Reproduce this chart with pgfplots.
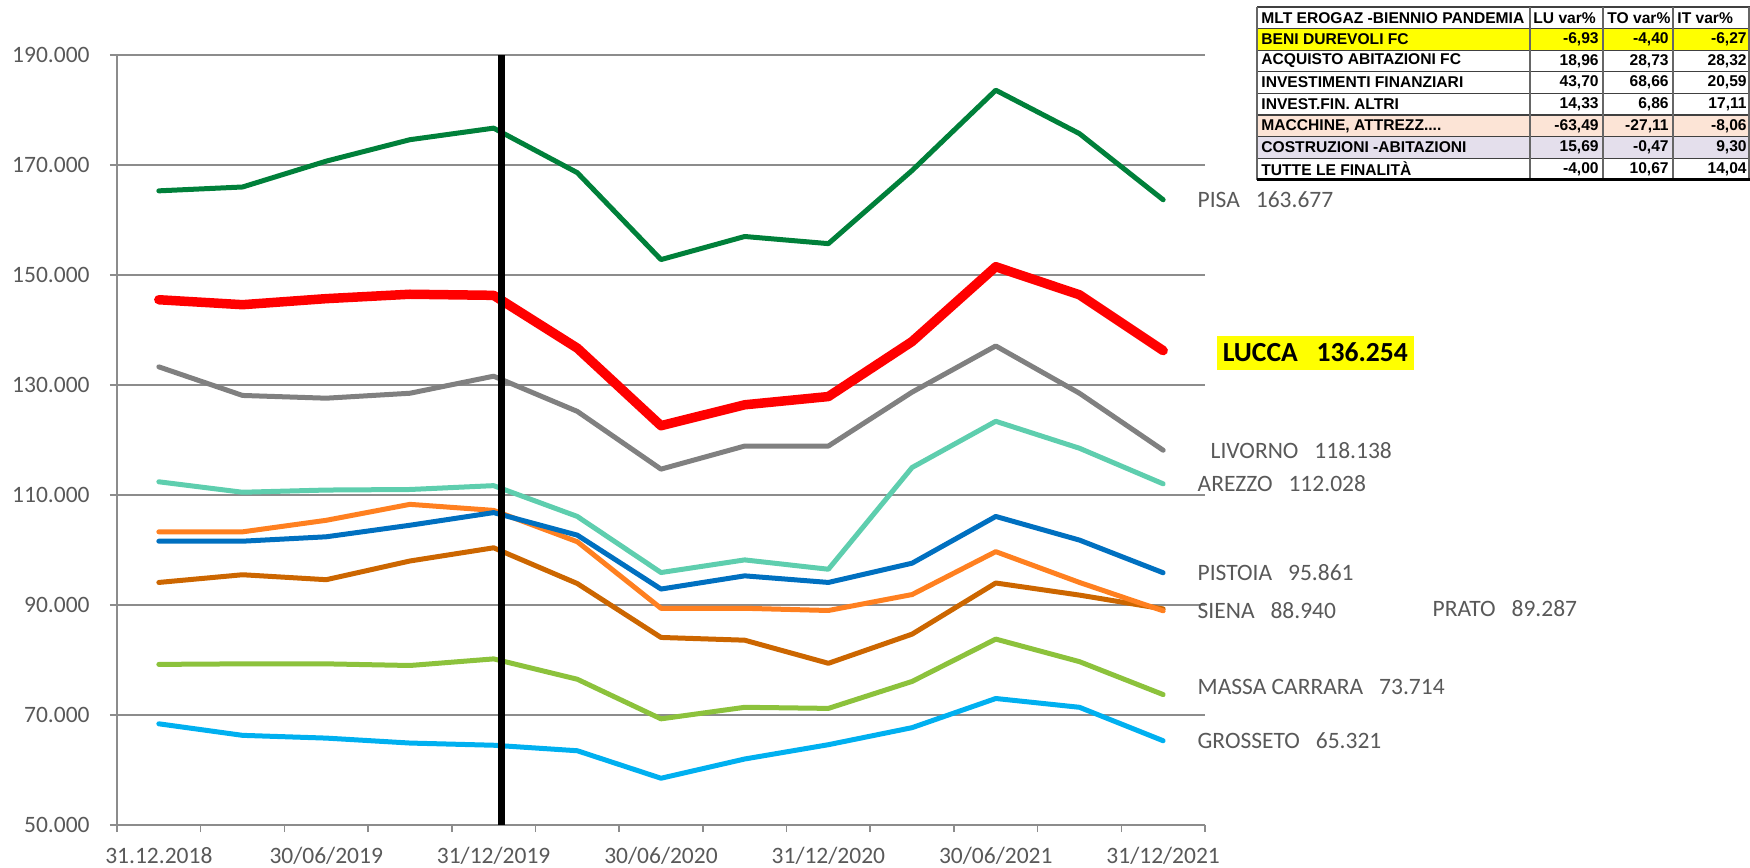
\documentclass[border=0pt]{standalone}
\usepackage{pgfplots}
\pgfplotsset{compat=1.18}
\usepackage{fontspec}
\setmainfont{Carlito}
\newfontfamily\tabfont{Liberation Sans}
\definecolor{cPisa}{RGB}{0,128,58}
\definecolor{cLucca}{RGB}{255,0,0}
\definecolor{cLivorno}{RGB}{128,128,128}
\definecolor{cArezzo}{RGB}{94,206,174}
\definecolor{cPistoia}{RGB}{0,112,192}
\definecolor{cSiena}{RGB}{255,128,32}
\definecolor{cPrato}{RGB}{204,102,0}
\definecolor{cMassa}{RGB}{140,194,60}
\definecolor{cGrosseto}{RGB}{0,176,240}
\definecolor{gridc}{RGB}{140,140,140}
\definecolor{labc}{RGB}{89,89,89}
\definecolor{rowY}{RGB}{255,255,0}
\definecolor{rowP}{RGB}{252,228,214}
\definecolor{rowL}{RGB}{228,223,236}
\newcommand{\lbl}{\fontsize{11.75}{14}\selectfont}
\newcommand{\tf}{\tabfont\bfseries\fontsize{7.8}{9}\selectfont}
\newcommand{\trow}[5]{%
  \node[anchor=west, inner sep=0pt, font=\tf] at (572,#1) {#2};
  \node[anchor=east, inner sep=0pt, font=\tf] at (741,#1) {#3};
  \node[anchor=east, inner sep=0pt, font=\tf] at (776,#1) {#4};
  \node[anchor=east, inner sep=0pt, font=\tf] at (815,#1) {#5};
}
\begin{document}
\begin{tikzpicture}[x=1pt,y=1pt]
\useasboundingbox (-58.5,-21) rectangle (816.5,412.5);
\begin{axis}[at={(0,0)}, anchor=south west, scale only axis,
  width=544pt, height=385pt,
  xmin=-0.5, xmax=12.5, ymin=50, ymax=190,
  clip=false,
  axis lines*=left,
  axis line style={draw=gridc, line width=0.75pt},
  ytick={50,70,...,190},
  yticklabels={50.000,70.000,90.000,110.000,130.000,150.000,170.000,190.000},
  xtick={-0.5,0.5,...,12.5}, xticklabels={},
  extra x ticks={0,2,...,12},
  extra x tick labels={31.12.2018,30/06/2019,31/12/2019,30/06/2020,31/12/2020,30/06/2021,31/12/2021},
  extra x tick style={major tick length=0pt, grid=none},
  tick align=outside, major tick length=3.5pt,
  tick style={draw=gridc, line width=0.75pt},
  ymajorgrids, grid style={draw=gridc, line width=0.75pt},
  ticklabel style={font=\lbl, text=labc},
  yticklabel style={inner sep=0pt, xshift=-10pt},
  xticklabel style={anchor=base, inner sep=0pt, yshift=-19pt},
  every axis plot/.append style={no marks, line width=2.5pt, line join=round, line cap=round},
]
\addplot[cGrosseto] coordinates {(0,68.4) (1,66.3) (2,65.8) (3,64.9) (4,64.5) (5,63.5) (6,58.5) (7,62.0) (8,64.6) (9,67.7) (10,73.0) (11,71.4) (12,65.321)}
  node[pos=1, anchor=west, xshift=16pt, inner sep=0pt, text=labc, font=\lbl] {GROSSETO~~~65.321};
\addplot[cMassa] coordinates {(0,79.2) (1,79.3) (2,79.3) (3,79.0) (4,80.2) (5,76.5) (6,69.3) (7,71.4) (8,71.2) (9,76.1) (10,83.8) (11,79.7) (12,73.714)}
  node[pos=1, anchor=west, xshift=16pt, yshift=3.75pt, inner sep=0pt, text=labc, font=\lbl] {MASSA CARRARA~~~73.714};
\addplot[cPrato] coordinates {(0,94.1) (1,95.5) (2,94.6) (3,98.0) (4,100.4) (5,93.9) (6,84.1) (7,83.6) (8,79.4) (9,84.7) (10,94.0) (11,91.8) (12,89.287)}
  node[pos=1, anchor=west, xshift=133.5pt, inner sep=0pt, text=labc, font=\lbl] {PRATO~~~89.287};
\addplot[cSiena] coordinates {(0,103.3) (1,103.3) (2,105.4) (3,108.3) (4,107.2) (5,101.5) (6,89.4) (7,89.4) (8,89.0) (9,91.9) (10,99.7) (11,94.1) (12,88.940)}
  node[pos=1, anchor=west, xshift=16pt, inner sep=0pt, text=labc, font=\lbl] {SIENA~~~88.940};
\addplot[cPistoia] coordinates {(0,101.6) (1,101.6) (2,102.4) (3,104.5) (4,106.8) (5,102.7) (6,92.9) (7,95.3) (8,94.1) (9,97.6) (10,106.1) (11,101.8) (12,95.861)}
  node[pos=1, anchor=west, xshift=16pt, inner sep=0pt, text=labc, font=\lbl] {PISTOIA~~~95.861};
\addplot[cArezzo] coordinates {(0,112.4) (1,110.5) (2,110.9) (3,111.0) (4,111.7) (5,106.1) (6,95.9) (7,98.2) (8,96.5) (9,115.0) (10,123.4) (11,118.5) (12,112.028)}
  node[pos=1, anchor=west, xshift=16pt, inner sep=0pt, text=labc, font=\lbl] {AREZZO~~~112.028};
\addplot[cLivorno] coordinates {(0,133.3) (1,128.1) (2,127.6) (3,128.5) (4,131.6) (5,125.2) (6,114.7) (7,118.9) (8,118.9) (9,128.7) (10,137.1) (11,128.5) (12,118.138)}
  node[pos=1, anchor=west, xshift=22.5pt, inner sep=0pt, text=labc, font=\lbl] {LIVORNO~~~118.138};
\addplot[cPisa] coordinates {(0,165.3) (1,166.0) (2,170.7) (3,174.6) (4,176.7) (5,168.6) (6,152.8) (7,157.0) (8,155.7) (9,169.0) (10,183.6) (11,175.7) (12,163.677)}
  node[pos=1, anchor=west, xshift=16pt, inner sep=0pt, text=labc, font=\lbl] {PISA~~~163.677};
\addplot[cLucca, line width=4.75pt] coordinates {(0,145.5) (1,144.6) (2,145.7) (3,146.5) (4,146.3) (5,136.7) (6,122.6) (7,126.4) (8,127.9) (9,137.9) (10,151.5) (11,146.4) (12,136.254)}
  node[pos=1, anchor=west, xshift=24.5pt, yshift=-1pt, fill=rowY, inner xsep=3pt, minimum height=17pt, text=black, font=\fontsize{13.8}{16}\selectfont\bfseries] {LUCCA~~~136.254};
\addplot[black, line width=3.5pt, line cap=butt] coordinates {(4.1,50) (4.1,190)};
\end{axis}
% table
\fill[rowY] (570,398.2) rectangle (816.5,387.4);
\fill[rowP] (570,355) rectangle (816.5,344.2);
\fill[rowL] (570,344.2) rectangle (816.5,333.4);
\foreach \yy in {409,398.2,387.4,376.6,365.8,355,344.2,333.4} {\draw[black!75, line width=0.6pt] (570,\yy) -- (816.5,\yy);}
\foreach \xx in {570,706.5,743,778,816} {\draw[black!60, line width=0.6pt] (\xx,409) -- (\xx,322.6);}
\draw[black, line width=1.4pt] (570,322.6) -- (816.5,322.6);
\trow{403.6}{MLT EROGAZ -BIENNIO PANDEMIA}{}{}{}
\node[anchor=west, inner sep=0pt, font=\tf] at (708,403.6) {LU var\%};
\node[anchor=west, inner sep=0pt, font=\tf] at (745,403.6) {TO var\%};
\node[anchor=west, inner sep=0pt, font=\tf] at (780,403.6) {IT var\%};
\trow{392.8}{BENI DUREVOLI FC}{-6,93}{-4,40}{-6,27}
\trow{382.0}{ACQUISTO ABITAZIONI FC}{18,96}{28,73}{28,32}
\trow{371.2}{INVESTIMENTI FINANZIARI}{43,70}{68,66}{20,59}
\trow{360.4}{INVEST.FIN. ALTRI}{14,33}{6,86}{17,11}
\trow{349.6}{MACCHINE, ATTREZZ....}{-63,49}{-27,11}{-8,06}
\trow{338.8}{COSTRUZIONI -ABITAZIONI}{15,69}{-0,47}{9,30}
\trow{328.0}{TUTTE LE FINALITÀ}{-4,00}{10,67}{14,04}
\end{tikzpicture}
\end{document}
